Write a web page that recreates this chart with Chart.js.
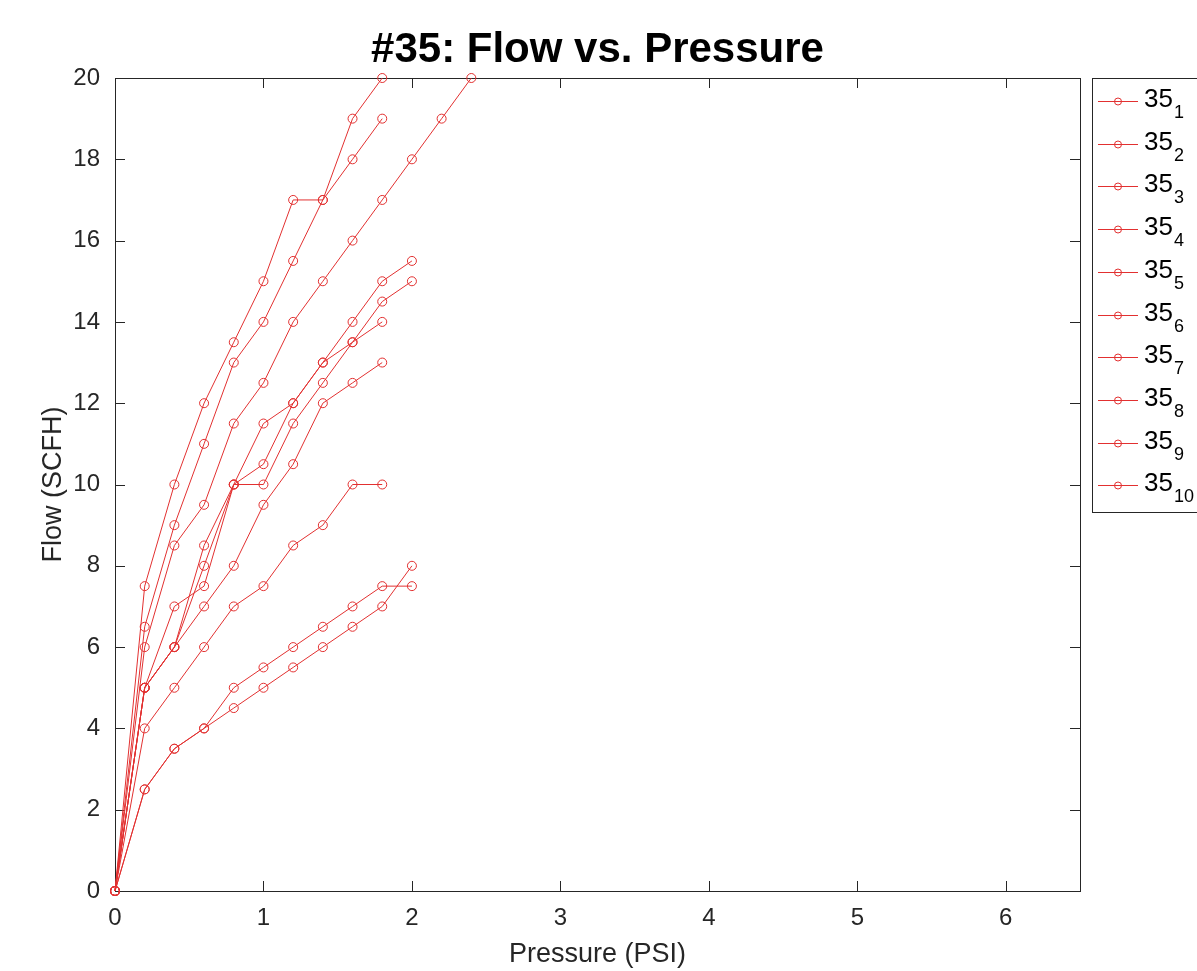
<!DOCTYPE html>
<html>
<head>
<meta charset="utf-8">
<script src="https://cdn.jsdelivr.net/npm/chart.js@4.4.1/dist/chart.umd.min.js"></script>
<style>
  html, body { margin: 0; padding: 0; background: #fff; }
  #wrap { width: 1197px; height: 971px; }
</style>
</head>
<body>
<div id="wrap"><canvas id="flowChart"></canvas></div>
<script>
// pressure steps (PSI), shared by every run
const pressure = [0, 0.2, 0.4, 0.6, 0.8, 1.0, 1.2, 1.4, 1.6, 1.8, 2.0, 2.2, 2.4];

// flow readings (SCFH) per run, one value per pressure step
const flow1  = [0, 7.5, 10, 12, 13.5, 15, 17, 17, 19, 20];
const flow2  = [0, 6.5, 9, 11, 13, 14, 15.5, 17, 18, 19];
const flow3  = [0, 6, 8.5, 9.5, 11.5, 12.5, 14, 15, 16, 17, 18, 19, 20];
const flow4  = [0, 5, 6, 8.5, 10, 11.5, 12, 13, 14, 15, 15.5];
const flow5  = [0, 5, 6, 8, 10, 10.5, 12, 13, 13.5, 14];
const flow6  = [0, 5, 7, 7.5, 10, 10, 11.5, 12.5, 13.5, 14.5, 15];
const flow7  = [0, 5, 6, 7, 8, 9.5, 10.5, 12, 12.5, 13];
const flow8  = [0, 4, 5, 6, 7, 7.5, 8.5, 9, 10, 10];
const flow9  = [0, 2.5, 3.5, 4, 5, 5.5, 6, 6.5, 7, 7.5, 7.5];
const flow10 = [0, 2.5, 3.5, 4, 4.5, 5, 5.5, 6, 6.5, 7, 8];

const seriesNames = ['35_1', '35_2', '35_3', '35_4', '35_5', '35_6', '35_7', '35_8', '35_9', '35_10'];
const xTickLabels = [0, 1, 2, 3, 4, 5, 6];
const yTickLabels = [0, 2, 4, 6, 8, 10, 12, 14, 16, 18, 20];
const chartTitle = '#35: Flow vs. Pressure';

const allFlows = [flow1, flow2, flow3, flow4, flow5, flow6, flow7, flow8, flow9, flow10];
const red = 'rgb(226, 48, 48)';
const axisColor = '#262626';
const fontFamily = '"Liberation Sans", Arial, Helvetica, sans-serif';

const datasets = allFlows.map((flow, i) => ({
  label: seriesNames[i],
  data: flow.map((v, k) => ({ x: pressure[k], y: v })),
  showLine: true,
  borderColor: red,
  borderWidth: 1,
  backgroundColor: 'transparent',
  pointStyle: 'circle',
  pointRadius: 4.5,
  pointBorderWidth: 1,
  pointBorderColor: red,
  pointBackgroundColor: 'transparent',
  clip: false
}));

// box round the plot, inward tick marks and the title centred on the axes (matlab style)
const boxAndTicks = {
  id: 'boxAndTicks',
  beforeDatasetsDraw(chart) {
    const { ctx, chartArea: a, scales: { x, y } } = chart;
    const tl = 10;
    ctx.save();
    ctx.strokeStyle = axisColor;
    ctx.lineWidth = 1;
    ctx.strokeRect(Math.round(a.left) + 0.5, Math.round(a.top) + 0.5,
      Math.round(a.right - a.left), Math.round(a.bottom - a.top));
    ctx.beginPath();
    xTickLabels.forEach(v => {
      const px = Math.round(x.getPixelForValue(v)) + 0.5;
      ctx.moveTo(px, a.bottom); ctx.lineTo(px, a.bottom - tl);
      ctx.moveTo(px, a.top); ctx.lineTo(px, a.top + tl);
    });
    yTickLabels.forEach(v => {
      const py = Math.round(y.getPixelForValue(v)) + 0.5;
      ctx.moveTo(a.left, py); ctx.lineTo(a.left + tl, py);
      ctx.moveTo(a.right, py); ctx.lineTo(a.right - tl, py);
    });
    ctx.stroke();

    ctx.fillStyle = '#000';
    ctx.font = 'bold 42px ' + fontFamily;
    ctx.textAlign = 'center';
    ctx.textBaseline = 'alphabetic';
    ctx.fillText(chartTitle, (a.left + a.right) / 2, 62);
    ctx.restore();
  }
};

// legend with subscripts (35 with run number below)
const subLegend = {
  id: 'subLegend',
  afterDraw(chart) {
    const { ctx } = chart;
    const left = 1092, top = 78, rowH = 42.7, firstRow = 101;
    ctx.save();
    ctx.fillStyle = '#fff';
    ctx.fillRect(left, top, 1197 - left + 5, 434);
    ctx.strokeStyle = axisColor;
    ctx.lineWidth = 1;
    ctx.strokeRect(left + 0.5, top + 0.5, 1197 - left + 5, 434);
    chart.data.datasets.forEach((ds, i) => {
      const cy = Math.round(firstRow + i * rowH) + 0.5;
      ctx.strokeStyle = ds.borderColor;
      ctx.beginPath();
      ctx.moveTo(1098, cy); ctx.lineTo(1138, cy);
      ctx.stroke();
      ctx.beginPath();
      ctx.arc(1118, cy, 3.5, 0, Math.PI * 2);
      ctx.stroke();
      const [base, sub] = ds.label.split('_');
      ctx.fillStyle = '#000';
      ctx.textBaseline = 'alphabetic';
      ctx.textAlign = 'left';
      ctx.font = '26px ' + fontFamily;
      ctx.fillText(base, 1144, cy + 5);
      const w = ctx.measureText(base).width;
      ctx.font = '18px ' + fontFamily;
      ctx.fillText(sub, 1144 + w + 1, cy + 16);
    });
    ctx.restore();
  }
};

const ctx = document.getElementById('flowChart').getContext('2d');

new Chart(ctx, {
  type: 'scatter',
  data: { datasets: datasets },
  options: {
    responsive: true,
    maintainAspectRatio: false,
    animation: false,
    layout: {
      padding: { left: 0, right: 117, top: 78, bottom: 0 }
    },
    scales: {
      x: {
        type: 'linear',
        min: 0,
        max: 6.5,
        afterFit: scale => { scale.height = 80; },
        afterBuildTicks: scale => { scale.ticks = xTickLabels.map(v => ({ value: v })); },
        grid: { display: false, drawTicks: false },
        border: { display: false },
        ticks: {
          padding: 13,
          color: axisColor,
          font: { family: fontFamily, size: 24 }
        },
        title: {
          display: true,
          text: 'Pressure (PSI)',
          color: axisColor,
          font: { family: fontFamily, size: 27 },
          padding: { top: 0, bottom: 0 }
        }
      },
      y: {
        type: 'linear',
        min: 0,
        max: 20,
        afterFit: scale => { scale.width = 115; },
        afterBuildTicks: scale => { scale.ticks = yTickLabels.map(v => ({ value: v })); },
        grid: { display: false, drawTicks: false },
        border: { display: false },
        ticks: {
          padding: 15,
          color: axisColor,
          font: { family: fontFamily, size: 24 }
        },
        title: {
          display: true,
          text: 'Flow (SCFH)',
          color: axisColor,
          font: { family: fontFamily, size: 27 },
          padding: { top: 37, bottom: 0 }
        }
      }
    },
    plugins: {
      legend: { display: false },
      tooltip: { enabled: false },
      title: { display: false }
    }
  },
  plugins: [boxAndTicks, subLegend]
});
</script>
</body>
</html>
